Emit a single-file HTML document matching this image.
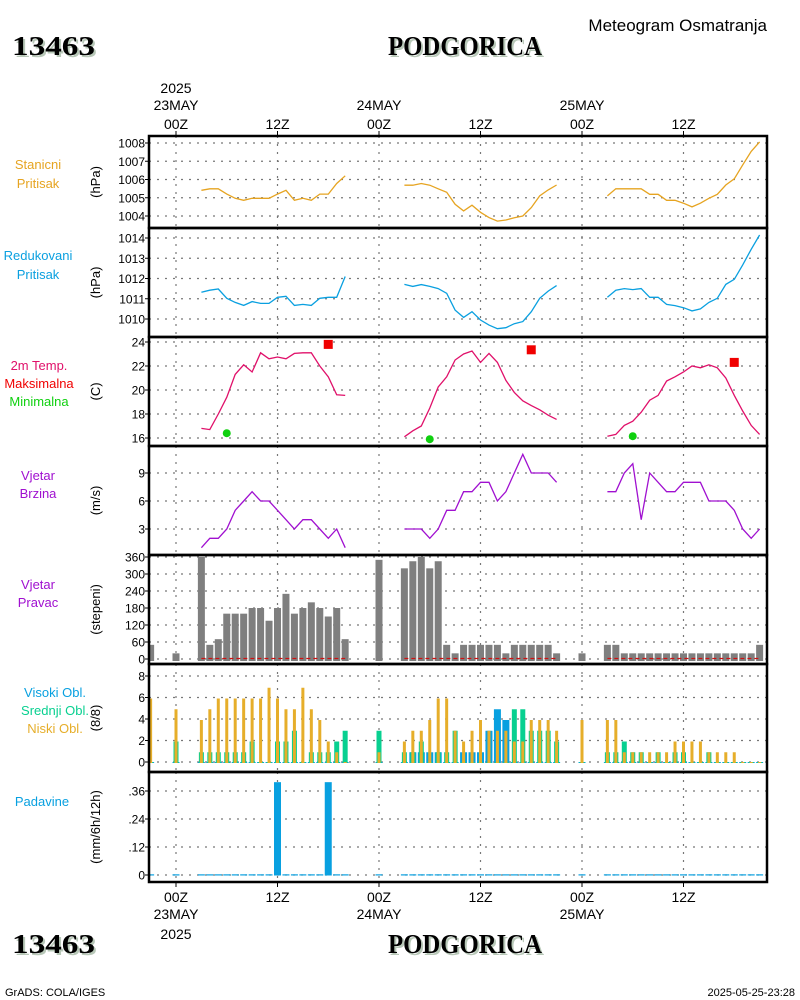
<!DOCTYPE html>
<html><head><meta charset="utf-8"><style>
html,body{margin:0;padding:0;background:#fff;width:800px;height:1000px;overflow:hidden}
svg{display:block}
</style></head><body>
<svg id="c" width="800" height="1000" viewBox="0 0 800 1000" font-family="Liberation Sans, sans-serif"></svg>
<script>
// ---- data ----
const lineHours=[3,4,5,6,7,8,9,10,11,12,13,14,15,16,17,18,19,20,27,28,29,30,31,32,33,34,35,36,37,38,39,40,41,42,43,44,45,51,52,53,54,55,56,57,58,59,60,61,62,63,64,65,66,67,68,69];
const stationPressure=[1005.41,1005.49,1005.49,1005.2,1004.97,1004.86,1004.97,1004.97,1004.97,1005.2,1005.41,1004.86,1004.97,1004.86,1005.2,1005.2,1005.78,1006.2,
1005.69,1005.69,1005.78,1005.69,1005.49,1005.3,1004.64,1004.28,1004.59,1004.2,1003.91,1003.72,1003.78,1003.9,1004.0,1004.46,1005.1,1005.43,1005.7,
1005.1,1005.49,1005.49,1005.49,1005.49,1005.19,1005.19,1004.86,1004.86,1004.7,1004.5,1004.7,1004.97,1005.19,1005.7,1006.04,1006.8,1007.54,1008.06];
const reducedPressure=[1011.32,1011.42,1011.48,1011.02,1010.82,1010.67,1010.86,1010.77,1010.77,1011.07,1011.12,1010.67,1010.72,1010.67,1011.02,1011.07,1011.07,1012.1,
1011.71,1011.61,1011.7,1011.61,1011.5,1011.27,1010.44,1010.08,1010.36,1009.95,1009.7,1009.52,1009.57,1009.77,1009.87,1010.36,1011.02,1011.38,1011.65,
1011.07,1011.42,1011.5,1011.45,1011.5,1011.07,1011.07,1010.72,1010.66,1010.56,1010.4,1010.5,1010.82,1011.02,1011.71,1011.96,1012.67,1013.44,1014.15];
const temperature=[16.8,16.7,18.0,19.4,21.3,22.1,21.5,23.1,22.6,22.75,22.6,23.05,23.1,23.1,22.0,21.1,19.6,19.55,
16.1,16.6,17.0,18.5,20.25,21.1,22.5,23.0,23.25,22.3,23.05,22.3,20.8,19.8,19.1,18.7,18.35,17.9,17.55,
16.15,16.3,17.05,17.4,18.15,19.15,19.55,20.75,21.1,21.5,22.0,21.85,22.1,21.85,21.0,19.55,18.25,17.05,16.3];
const windSpeed=[1,2,2,3,5,6,7,6,6,5,4,3,4,4,3,2,3,1,
3,3,3,2,3,5,5,7,7,8,8,6,7,9,11,9,9,9,8,
7,7,9,10,4,9,8,7,7,8,8,8,6,6,6,5,3,2,3];
const maxHours=[18,42,66];
const maxTemps=[23.8,23.35,22.3];
const minHours=[6,30,54];
const minTemps=[16.4,15.9,16.15];
const barHours=[-3,0,3,4,5,6,7,8,9,10,11,12,13,14,15,16,17,18,19,20,24,27,28,29,30,31,32,33,34,35,36,37,38,39,40,41,42,43,44,45,48,51,52,53,54,55,56,57,58,59,60,61,62,63,64,65,66,67,68,69];
const windDir=[50,20,360,50,70,160,160,160,180,180,135,180,230,160,180,200,180,150,180,70,350,320,345,360,320,345,50,20,50,50,50,50,50,20,50,50,50,50,50,20,20,50,50,20,20,20,20,20,20,20,20,20,20,20,20,20,20,20,20,50];
const lowCloud=[6,5,4,5,6,6,6,6,6,6,7,6,5,5,7,5,4,2,1,0,1,2,3,3,4,6,6,3,2,3,4,3,3,3,2,2,4,4,4,3,4,4,4,1,1,1,1,1,1,2,2,2,2,1,1,1,1,0,0,0];
const midCloud=[0,2,1,1,1,1,1,1,2,0,0,2,2,3,0,1,1,1,2,3,3,1,1,2,0,1,1,3,0,0,0,0,0,0,5,5,3,3,3,2,0,1,1,2,1,1,0,1,0,1,1,0,0,1,0,0,0,0,0,0];
const highCloud=[0,0,0,0,0,0,0,0,0,0,0,0,0,0,0,0,0,0,0,0,0,0,1,1,1,1,0,0,1,1,1,3,5,4,0,0,0,0,0,0,0,0,0,0,0,0,0,0,0,0,0,0,0,0,0,0,0,0,0,0];
const precipHours=barHours;
const precip=barHours.map(h=>(h===12||h===18)?0.40:0);
const stationTicks=[1004,1005,1006,1007,1008];
const reducedTicks=[1010,1011,1012,1013,1014];
const tempTicks=[16,18,20,22,24];
const windTicks=[3,6,9];
const dirTicks=[0,60,120,180,240,300,360];
const cloudTicks=[0,2,4,6,8];
const precipTicks=[0,0.12,0.24,0.36];
const timeTickHours=[0,12,24,36,48,60];
const timeTickLabels=["00Z","12Z","00Z","12Z","00Z","12Z"];
const dateLabels=["23MAY","","24MAY","","25MAY",""];

// ---- drawing ----
const NS="http://www.w3.org/2000/svg";
const svg=document.getElementById('c');
function el(tag,attrs,parent){const e=document.createElementNS(NS,tag);for(const k in attrs)e.setAttribute(k,attrs[k]);(parent||svg).appendChild(e);return e;}
function txt(s,x,y,size,fill,anchor,parent){const t=el('text',{x:x,y:y,'font-size':size,fill:fill,'text-anchor':anchor||'start'},parent);t.textContent=s;return t;}
const X0=176,PX=101.5/12,L=149,R=767;
const xs=h=>X0+h*PX;
function lin(v1,p1,v2,p2){return v=>p1+(v-v1)*(p2-p1)/(v2-v1);}
const panels=[
 {name:'station-pressure',top:136,bot:228,y:lin(1004,216,1008,143),ticks:stationTicks,unit:'(hPa)',fmt:v=>v},
 {name:'reduced-pressure',top:228,bot:337,y:lin(1010,319,1014,238),ticks:reducedTicks,unit:'(hPa)',fmt:v=>v},
 {name:'temperature',top:337,bot:446,y:lin(16,438,24,342),ticks:tempTicks,unit:'(C)',fmt:v=>v},
 {name:'wind-speed',top:446,bot:555,y:lin(3,529,9,473),ticks:windTicks,unit:'(m/s)',fmt:v=>v},
 {name:'wind-direction',top:555,bot:664,y:lin(0,659,360,557),ticks:dirTicks,unit:'(stepeni)',fmt:v=>v},
 {name:'cloud-cover',top:664,bot:772,y:lin(0,762,8,676),ticks:cloudTicks,unit:'(8/8)',fmt:v=>v},
 {name:'precipitation',top:772,bot:882,y:lin(0,875,0.36,791),ticks:precipTicks,unit:'(mm/6h/12h)',fmt:v=>v===0?'0':v.toFixed(2).replace(/^0/,'')}
];
panels.forEach(p=>{
 const g=el('g',{});
 
 
 p.g=g;
 timeTickHours.forEach(h=>{const l=el('line',{x1:xs(h),x2:xs(h),y1:p.top,y2:p.bot,stroke:'#777','stroke-width':1.2,'stroke-dasharray':'2,6'},g);
  });
 p.ticks.forEach(v=>{const yy=p.y(v);
  const l=el('line',{x1:L,x2:R,y1:yy,y2:yy,stroke:'#777','stroke-width':1.2,'stroke-dasharray':'2,6'},g);
  
  el('line',{x1:L-4,x2:L,y1:yy,y2:yy,stroke:'#000','stroke-width':1},g);
  const t=txt(String(p.fmt(v)),L-4,yy+4.5,12,'#000','end',g);
  });
 const cy=(p.top+p.bot)/2;
 const ut=txt(p.unit,0,0,13,'#000','middle',g);ut.setAttribute('transform',`translate(100,${cy}) rotate(-90)`);
 
});
function line(vals,yf,color,g,name){
 let d='',prev=null;
 lineHours.forEach((h,i)=>{const v=vals[i];if(v==null){prev=null;return;}
  d+=(prev!==null&&h-prev===1?'L':'M')+xs(h).toFixed(1)+','+yf(v).toFixed(1);prev=h;});
 const p=el('path',{d:d,fill:'none',stroke:color,'stroke-width':1.3},g);
 
}
line(stationPressure,panels[0].y,'#e6a421',panels[0].g,'station-pressure-line');
line(reducedPressure,panels[1].y,'#0aa0e0',panels[1].g,'reduced-pressure-line');
line(temperature,panels[2].y,'#e0106a',panels[2].g,'temperature-line');
line(windSpeed,panels[3].y,'#a010d0',panels[3].g,'wind-speed-line');
maxHours.forEach((h,i)=>{const r=el('rect',{x:xs(h)-4.5,y:panels[2].y(maxTemps[i])-4.5,width:9,height:9,fill:'#f00000'},panels[2].g);
 });
minHours.forEach((h,i)=>{const c=el('circle',{cx:xs(h),cy:panels[2].y(minTemps[i]),r:4,fill:'#10d010'},panels[2].g);
 });
// wind direction bars
const pd=panels[4];
barHours.forEach((h,i)=>{const x=Math.max(L,xs(h)-3.5),x2=Math.min(R,xs(h)+3.5);const y0=pd.y(0),y1=pd.y(windDir[i]);
 const r=el('rect',{x:x,y:y1,width:x2-x,height:y0-y1+2,fill:'#7f7f7f'},pd.g);
 });
{let s=null,prev=null;const segs=[];lineHours.forEach(h=>{if(prev===null||h-prev!==1){if(s!==null)segs.push([s,prev]);s=h;}prev=h;});segs.push([s,prev]);
 segs.forEach(sg=>{const l=el('line',{x1:xs(sg[0]),x2:xs(sg[1]),y1:pd.y(0)-0.5,y2:pd.y(0)-0.5,stroke:'#d01010','stroke-width':1.3,'stroke-dasharray':'4,3'},pd.g);
  });}
// clouds
const pc=panels[5];
barHours.forEach((h,i)=>{const y0=pc.y(0);
 [[highCloud,3.5,'#08a0e0','high-cloud-bar'],[midCloud,2.5,'#08d090','mid-cloud-bar'],[lowCloud,1.5,'#e6ae2a','low-cloud-bar']].forEach(s=>{
  const v=s[0][i];const x=Math.max(L,xs(h)-s[1]);const w=Math.min(R,xs(h)+s[1])-x;const hh=Math.max(1,y0-pc.y(v));
  const r=el('rect',{x:x,y:y0-hh+1,width:w,height:hh,fill:s[2]},pc.g);
  });});
// precip
const pp=panels[6];
precipHours.forEach((h,i)=>{const y0=pp.y(0);const hh=Math.max(1.2,y0-pp.y(precip[i]));const x=Math.max(L,xs(h)-3.5);
 const r=el('rect',{x:x,y:y0-hh+0.5,width:Math.min(R,xs(h)+3.5)-x,height:hh,fill:'#08a0e0'},pp.g);
 });
// borders
panels.forEach((p,i)=>{const r=el('rect',{x:L,y:p.top,width:R-L,height:p.bot-p.top,fill:'none',stroke:'#000','stroke-width':2.5});
 });
// time axes
timeTickHours.forEach((h,i)=>{const x=xs(h);
 el('line',{x1:x,x2:x,y1:136,y2:131,stroke:'#000'});el('line',{x1:x,x2:x,y1:882,y2:887,stroke:'#000'});
 const a=txt(timeTickLabels[i],x,129,14,'#000','middle');
 const b=txt(timeTickLabels[i],x,902,14,'#000','middle');
 if(dateLabels[i]){const c=txt(dateLabels[i],x,110,14,'#000','middle');
  const d=txt(dateLabels[i],x,919,14,'#000','middle');}
});
</script>
<div style="position:absolute;left:0;top:0;width:800px;height:1000px;pointer-events:none">
<svg width="800" height="1000" viewBox="0 0 800 1000" style="position:absolute;left:0;top:0">
<g>
<g font-family="Liberation Serif, serif" font-weight="bold" font-size="27">
<text x="14" y="57" fill="#b8c8b8" textLength="83" lengthAdjust="spacingAndGlyphs">13463</text>
<text x="12" y="55" fill="#000" textLength="83" lengthAdjust="spacingAndGlyphs">13463</text>
<text x="390" y="57" fill="#b8c8b8" textLength="154" lengthAdjust="spacingAndGlyphs">PODGORICA</text>
<text x="388" y="55" fill="#000" textLength="154" lengthAdjust="spacingAndGlyphs">PODGORICA</text>
<text x="14" y="955" fill="#b8c8b8" textLength="83" lengthAdjust="spacingAndGlyphs">13463</text>
<text x="12" y="953" fill="#000" textLength="83" lengthAdjust="spacingAndGlyphs">13463</text>
<text x="390" y="955" fill="#b8c8b8" textLength="154" lengthAdjust="spacingAndGlyphs">PODGORICA</text>
<text x="388" y="953" fill="#000" textLength="154" lengthAdjust="spacingAndGlyphs">PODGORICA</text>
</g>
<g font-family="Liberation Sans, sans-serif">
<text x="767" y="31" font-size="17" text-anchor="end" fill="#000">Meteogram Osmatranja</text>
<text x="176" y="93" font-size="14" text-anchor="middle" fill="#000">2025</text>
<text x="176" y="939" font-size="14" text-anchor="middle" fill="#000">2025</text>
<text x="5" y="996" font-size="11" fill="#000">GrADS: COLA/IGES</text>
<text x="795" y="996" font-size="11" text-anchor="end" fill="#000">2025-05-25-23:28</text>
</g>
</g>
<g font-family="Liberation Sans, sans-serif" font-size="13" text-anchor="middle">
<text x="38" y="169" fill="#e6a421">Stanicni</text>
<text x="38" y="188" fill="#e6a421">Pritisak</text>
<text x="38" y="260" fill="#0aa0e0">Redukovani</text>
<text x="38" y="279" fill="#0aa0e0">Pritisak</text>
<text x="39" y="370" fill="#e0106a">2m Temp.</text>
<text x="39" y="388" fill="#f00000">Maksimalna</text>
<text x="39" y="406" fill="#10d010">Minimalna</text>
<text x="38" y="480" fill="#a010d0">Vjetar</text>
<text x="38" y="498" fill="#a010d0">Brzina</text>
<text x="38" y="589" fill="#a010d0">Vjetar</text>
<text x="38" y="607" fill="#a010d0">Pravac</text>
<text x="55" y="697" fill="#08a0e0">Visoki Obl.</text>
<text x="55" y="715" fill="#08d090">Srednji Obl.</text>
<text x="55" y="733" fill="#e6ae2a">Niski Obl.</text>
<text x="42" y="806" fill="#08a0e0">Padavine</text>
</g>
</svg></div>
</body></html>
